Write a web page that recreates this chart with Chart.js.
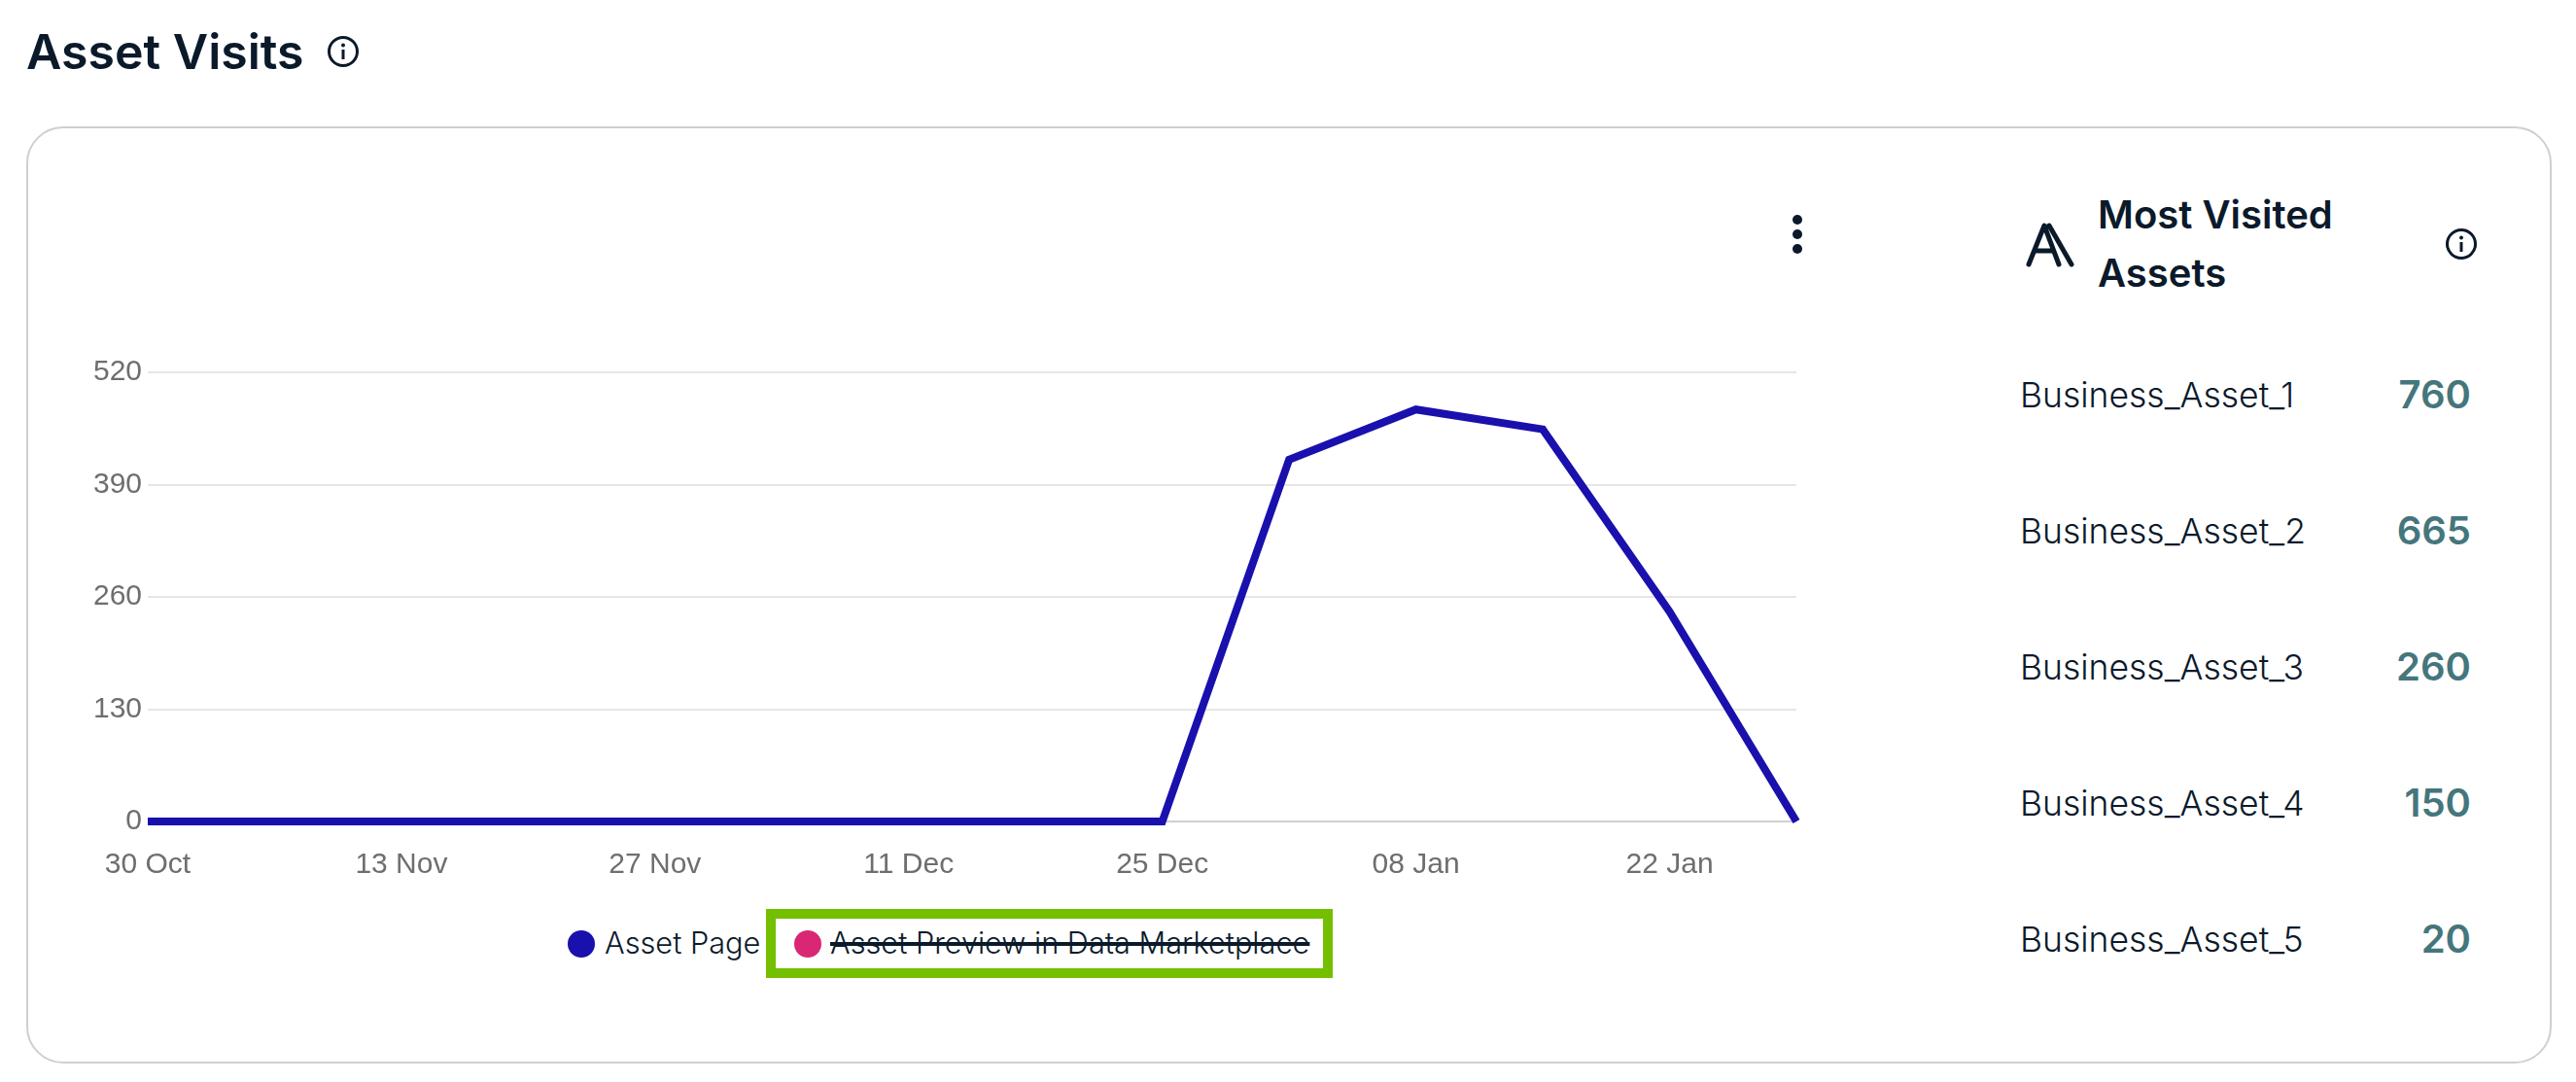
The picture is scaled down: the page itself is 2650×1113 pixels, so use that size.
<!DOCTYPE html>
<html>
<head>
<meta charset="utf-8">
<title>Asset Visits</title>
<script src="https://cdn.jsdelivr.net/npm/chart.js@4"></script>
<style>
    html, body { margin: 0; padding: 0; background: #fff; }
    body { width: 2650px; height: 1113px; position: relative; overflow: hidden; font-family: 'Inter', sans-serif; color: #0b1a2b; }
    .abs { position: absolute; white-space: nowrap; }
    #title { left: 27px; top: 23px; font-size: 50px; line-height: 60px; font-weight: 600; }
    #card { left: 27px; top: 130px; width: 2594px; height: 960px; border: 2px solid #ccd0d5; border-radius: 38px; background: #fff; }
    #chart-wrap { left: 61px; top: 340px; width: 1806px; height: 560px; }
    .dot { width: 10px; height: 10px; border-radius: 50%; background: #0b1a2b; left: 1844px; }
    .swatch { width: 28px; height: 28px; border-radius: 50%; top: 957px; }
    .legend-text { top: 950px; font-size: 30.7px; line-height: 40px; font-weight: 300; color: #0b1a2b; }
    #preview-text { text-decoration: line-through; text-decoration-thickness: 4px; text-decoration-color: #0b1a2b; }
    #highlight { left: 788px; top: 935px; width: 563px; height: 51px; border: 10px solid #73bf00; }
    #side-title { left: 2158px; top: 191px; font-size: 40px; line-height: 60px; font-weight: 600; white-space: normal; width: 300px; }
    .asset-name { left: 2078px; font-size: 35.5px; line-height: 44px; font-weight: 300; color: #0b1a2b; }
    .asset-count { right: 108px; font-size: 40px; line-height: 44px; font-weight: 600; color: #45767c; }
</style>
</head>
<body>
<div class="abs" id="card"></div>
<div class="abs" id="title">Asset Visits</div>
<svg class="abs info" style="left:336px;top:36px" width="34" height="34" viewBox="0 0 34 34">
    <circle cx="17" cy="17" r="14.5" fill="none" stroke="#0b1a2b" stroke-width="3"/>
    <rect x="15.5" y="15" width="3" height="10" fill="#0b1a2b"/><circle cx="17" cy="10.5" r="2" fill="#0b1a2b"/>
</svg>
<div class="abs" id="chart-wrap"><canvas id="visitsChart" width="1806" height="560"></canvas></div>
<div class="abs dot" style="top:221px"></div>
<div class="abs dot" style="top:236px"></div>
<div class="abs dot" style="top:251px"></div>
<div class="abs" id="highlight"></div>
<div id="legend"></div>
<svg class="abs" style="left:2083px;top:228px" width="52" height="47" viewBox="0 0 52 47">
    <path d="M4 44 L20 4 L35 44 M12 30 L29 30 M25 4 L48 44" fill="none" stroke="#0b1a2b" stroke-width="5" stroke-linecap="round" stroke-linejoin="round"/>
</svg>
<div class="abs" id="side-title">Most Visited Assets</div>
<svg class="abs info" style="left:2515px;top:234px" width="34" height="34" viewBox="0 0 34 34">
    <circle cx="17" cy="17" r="14.5" fill="none" stroke="#0b1a2b" stroke-width="3"/>
    <rect x="15.5" y="15" width="3" height="10" fill="#0b1a2b"/><circle cx="17" cy="10.5" r="2" fill="#0b1a2b"/>
</svg>
<div id="asset-list"></div>

<script>
    const dates = ['30 Oct', '06 Nov', '13 Nov', '20 Nov', '27 Nov', '04 Dec', '11 Dec', '18 Dec', '25 Dec', '01 Jan', '08 Jan', '15 Jan', '22 Jan', '29 Jan'];
    const assetPageVisits = [0, 0, 0, 0, 0, 0, 0, 0, 0, 419, 477, 454, 243, 0];
    const assetPreviewVisits = []; // switched off in the legend, so nothing to read
    const yTicks = [0, 130, 260, 390, 520];
    const assetNames = ['Business_Asset_1', 'Business_Asset_2', 'Business_Asset_3', 'Business_Asset_4', 'Business_Asset_5'];
    const assetCounts = [760, 665, 260, 150, 20];

    const BLUE = '#1a10ad';
    const PINK = '#d92675';

    // Side list
    const assetList = document.getElementById('asset-list');
    assetNames.forEach((name, i) => {
        const top = 385 + i * 140;
        assetList.innerHTML += `
            <div class="abs asset-name" style="top:${top}px">${name}</div>
            <div class="abs asset-count" style="top:${top - 1}px">${assetCounts[i]}</div>
        `;
    });

    // Legend, second series is struck through because it is hidden
    document.getElementById('legend').innerHTML = `
        <div class="abs swatch" style="left:584px;background:${BLUE}"></div>
        <div class="abs legend-text" style="left:622px">Asset Page</div>
        <div class="abs swatch" style="left:817px;background:${PINK}"></div>
        <div class="abs legend-text" id="preview-text" style="left:854px">Asset Preview in Data Marketplace</div>
    `;

    const ctx = document.getElementById('visitsChart').getContext('2d');
    new Chart(ctx, {
        type: 'line',
        data: {
            labels: dates,
            datasets: [
                {
                    label: 'Asset Page',
                    data: assetPageVisits,
                    borderColor: BLUE,
                    borderWidth: 8,
                    pointRadius: 0,
                    tension: 0,
                    clip: false
                },
                {
                    label: 'Asset Preview in Data Marketplace',
                    data: assetPreviewVisits,
                    borderColor: PINK,
                    hidden: true
                }
            ]
        },
        options: {
            responsive: false,
            animation: false,
            // the x tick padding also reserves space on the right of the plot
            layout: { padding: { top: 43, right: 0, left: 0, bottom: 0 } },
            plugins: { legend: { display: false }, tooltip: { enabled: false } },
            scales: {
                x: {
                    grid: { display: false },
                    border: { display: false },
                    afterFit: (axis) => { axis.height = 55; },
                    ticks: {
                        autoSkip: false,
                        maxRotation: 0,
                        padding: 19,
                        color: '#6e6e6e',
                        font: { family: "'Liberation Sans', Arial, sans-serif", size: 30 },
                        callback: function (value, index) {
                            return index % 2 === 0 ? dates[index] : '';
                        }
                    }
                },
                y: {
                    min: 0,
                    max: 520,
                    afterFit: (axis) => { axis.width = 91; },
                    afterBuildTicks: (axis) => { axis.ticks = yTicks.map(v => ({ value: v })); },
                    border: { display: false },
                    grid: {
                        drawTicks: false,
                        lineWidth: 2,
                        color: (c) => c.tick && c.tick.value === 0 ? '#cfcfcf' : '#e6e6e6'
                    },
                    ticks: {
                        padding: 6,
                        color: '#6e6e6e',
                        font: { family: "'Liberation Sans', Arial, sans-serif", size: 30 }
                    }
                }
            }
        }
    });
</script>
</body>
</html>
